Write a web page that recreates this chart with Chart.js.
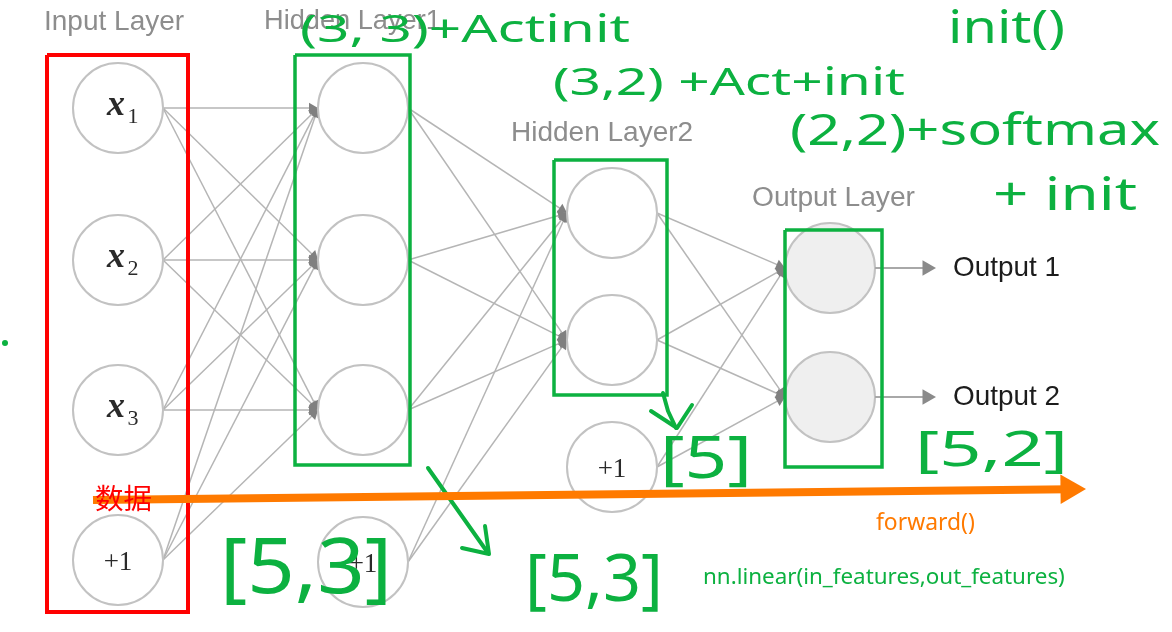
<!DOCTYPE html>
<html>
<head>
<meta charset="utf-8">
<script src="https://cdn.jsdelivr.net/npm/chart.js@4/dist/chart.umd.min.js"></script>
<style>
  html, body { margin: 0; padding: 0; background: #fff; overflow: hidden; }
</style>
</head>
<body>
<canvas id="net" width="1172" height="632"></canvas>
<script>
// network structure (what is drawn)
var layerNames = ['Input Layer', 'Hidden Layer1', 'Hidden Layer2', 'Output Layer'];
var inputNodes = ['x1', 'x2', 'x3', '+1'];
var hidden1Nodes = ['', '', '', '+1'];
var hidden2Nodes = ['', '', '+1'];
var outputNodes = ['', ''];
var outputNames = ['Output 1', 'Output 2'];

// layout of the picture
var W = 1172, H = 632;
var layerX = [118, 363, 612, 830];
var layerNodeY = [[108, 260, 410, 560], [108, 260, 410, 562], [213, 340, 467], [268, 397]];
var titlePos = [[44, 184, 22], [264, 441, 22], [511, 693, 133], [752, 915, 198]];
var R = 45;

var layers = [inputNodes, hidden1Nodes, hidden2Nodes, outputNodes];
var GREEN = '#0cb140', RED = '#ff0000', ORANGE = '#ff7a00';

var datasets = [];

function pts(list) {
  return list.map(function (p) { return {x: p[0], y: p[1]}; });
}

function polyline(list, color, width, order) {
  datasets.push({
    data: pts(list), showLine: true, borderColor: color, borderWidth: width,
    borderCapStyle: 'round', borderJoinStyle: 'round',
    pointRadius: 0, order: order, clip: false
  });
}

function box(x0, y0, x1, y1, color, width) {
  datasets.push({
    data: pts([[x0, y0], [x1, y0], [x1, y1], [x0, y1], [x0, y0]]),
    showLine: true, borderColor: color, borderWidth: width, borderJoinStyle: 'miter',
    pointRadius: 0, order: 1, clip: false
  });
}

// line with a triangle at its end
function arrow(x0, y0, x1, y1, lineColor, lineWidth, headColor, head, order) {
  var dx = x1 - x0, dy = y1 - y0, len = Math.sqrt(dx * dx + dy * dy);
  var ex = x1 - dx / len * head, ey = y1 - dy / len * head;
  var rot = Math.atan2(dy, dx) * 180 / Math.PI + 90;
  datasets.push({
    data: pts([[x0, y0], [ex, ey]]), showLine: true,
    borderColor: lineColor, borderWidth: lineWidth,
    pointRadius: [0, head], pointStyle: 'triangle', pointRotation: [0, rot],
    pointBackgroundColor: headColor, pointBorderColor: headColor, pointBorderWidth: 0,
    order: order, clip: false
  });
}

// edges: every node of a layer to every non-bias node of the next one
for (var l = 0; l < 3; l++) {
  for (var i = 0; i < layers[l].length; i++) {
    for (var j = 0; j < layers[l + 1].length; j++) {
      if (layers[l + 1][j] === '+1') continue;
      arrow(layerX[l] + R, layerNodeY[l][i], layerX[l + 1] - R, layerNodeY[l + 1][j],
        '#b5b5b5', 1.5, '#808080', 6, 6);
    }
  }
}

// nodes
for (var l = 0; l < 4; l++) {
  datasets.push({
    data: layerNodeY[l].map(function (y) { return {x: layerX[l], y: y}; }),
    pointRadius: R, pointHoverRadius: R,
    pointBackgroundColor: l === 3 ? '#efefef' : '#ffffff',
    pointBorderColor: '#c2c2c2', pointBorderWidth: 2,
    order: 4, clip: false
  });
}

// outputs arrows
outputNames.forEach(function (n, k) {
  arrow(layerX[3] + R, layerNodeY[3][k], 936, layerNodeY[3][k], '#a8a8a8', 2, '#8a8a8a', 9, 3);
});

// annotation boxes
box(47, 55, 188, 612, RED, 4);
box(295, 55, 410, 465, GREEN, 3.5);
box(554, 160, 667, 395, GREEN, 3.5);
box(785, 230, 882, 467, GREEN, 3.5);

// forward arrow
arrow(93, 500, 1086, 489, ORANGE, 8, ORANGE, 17, 0);

// hand drawn green arrows
polyline([[428, 468], [488, 553]], GREEN, 4, 0);
polyline([[462, 548], [489, 554], [485, 526]], GREEN, 4, 0);
polyline([[663, 393], [668, 411], [676, 428]], GREEN, 4, 0);
polyline([[651, 411], [677, 428], [692, 405]], GREEN, 4, 0);
datasets.push({data: [{x: 5, y: 343}], pointRadius: 3, pointBackgroundColor: GREEN,
  pointBorderWidth: 0, order: 0, clip: false});

// texts: [text, left, right, centerY, color, font, weight, size (0 = fit width)]
var SANS = '"Liberation Sans", Arial, sans-serif';
var NOTO = '"Noto Sans", sans-serif';
var notes = [
  ['(3, 3)+Actinit', 300, 630, 31, GREEN, NOTO, 'normal', 38],
  ['init()', 948, 1065, 30, GREEN, NOTO, 'normal', 46],
  ['(3,2) +Act+init', 553, 905, 84, GREEN, NOTO, 'normal', 38],
  ['(2,2)+softmax', 790, 1160, 132, GREEN, NOTO, 'normal', 44],
  ['+ init', 993, 1137, 197, GREEN, NOTO, 'normal', 46],
  ['[5]', 660, 752, 461, GREEN, NOTO, 'normal', 58],
  ['[5,2]', 915, 1068, 452, GREEN, NOTO, 'normal', 50],
  ['[5,3]', 220, 392, 571, GREEN, NOTO, 'normal', 76],
  ['[5,3]', 525, 663, 582, GREEN, NOTO, 'normal', 66],
  ['nn.linear(in_features,out_features)', 703, 1065, 578, GREEN, NOTO, 'normal', 0],
  ['forward()', 876, 975, 523, ORANGE, NOTO, 'normal', 0],
  ['数据', 95, 152, 498, RED, '"Noto Sans CJK SC", sans-serif', 'normal', 0]
];

function fitText(ctx, xs, ys, text, x0, x1, yc, color, family, weight, size) {
  var sx = 1;
  if (!size) {
    ctx.font = weight + ' 100px ' + family;
    size = 100 * (x1 - x0) / ctx.measureText(text).width;
  } else {
    ctx.font = weight + ' ' + size + 'px ' + family;
    sx = (x1 - x0) / ctx.measureText(text).width;
  }
  ctx.save();
  ctx.font = weight + ' ' + size.toFixed(1) + 'px ' + family;
  ctx.fillStyle = color;
  ctx.textAlign = 'left';
  ctx.textBaseline = 'middle';
  ctx.translate(xs.getPixelForValue(x0), ys.getPixelForValue(yc));
  ctx.scale(sx, 1);
  ctx.fillText(text, 0, 0);
  ctx.restore();
}

var textPlugin = {
  id: 'netText',
  afterDatasetsDraw: function (chart) {
    var ctx = chart.ctx, xs = chart.scales.x, ys = chart.scales.y;
    ctx.save();
    // node labels
    for (var l = 0; l < 4; l++) {
      layers[l].forEach(function (lab, k) {
        var px = xs.getPixelForValue(layerX[l]), py = ys.getPixelForValue(layerNodeY[l][k]);
        ctx.fillStyle = '#2a2a2a';
        ctx.textBaseline = 'middle';
        ctx.textAlign = 'center';
        if (lab === '+1') {
          ctx.font = '27px "Liberation Serif", serif';
          ctx.fillText('+1', px + 0, py + 3);
        } else if (lab) {
          ctx.font = 'italic bold 36px "Liberation Serif", serif';
          ctx.fillText('x', px - 2, py - 2);
          ctx.font = '22px "Liberation Serif", serif';
          ctx.fillText(lab.slice(1), px + 15, py + 9);
        }
      });
    }
    // layer titles
    layerNames.forEach(function (n, k) {
      var p = titlePos[k];
      fitText(ctx, xs, ys, n, p[0], p[1], p[2], '#8d8d8d', SANS, 'normal', 0);
    });
    // output names
    outputNames.forEach(function (n, k) {
      fitText(ctx, xs, ys, n, 953, 1060, layerNodeY[3][k], '#1c1c1c', SANS, 'normal', 0);
    });
    notes.forEach(function (t) {
      fitText(ctx, xs, ys, t[0], t[1], t[2], t[3], t[4], t[5], t[6], t[7]);
    });
    ctx.restore();
  }
};

new Chart(document.getElementById('net').getContext('2d'), {
  type: 'scatter',
  data: {datasets: datasets},
  options: {
    responsive: false,
    animation: false,
    events: [],
    layout: {padding: 0, autoPadding: false},
    plugins: {legend: {display: false}, tooltip: {enabled: false}},
    scales: {
      x: {type: 'linear', min: 0, max: W, display: false},
      y: {type: 'linear', min: 0, max: H, reverse: true, display: false}
    }
  },
  plugins: [textPlugin]
});
</script>
</body>
</html>
